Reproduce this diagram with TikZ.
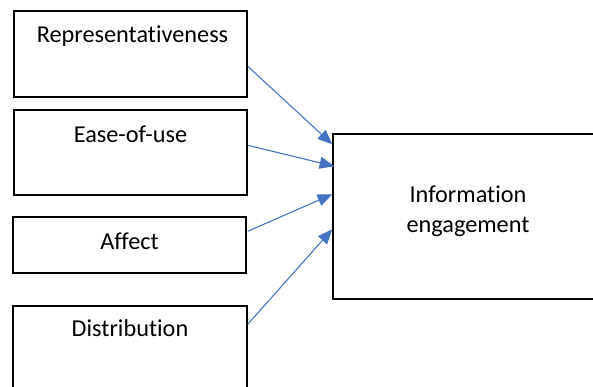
\documentclass[tikz,border=0pt]{standalone}
\usepackage{fontspec}
\setmainfont{Carlito}[RawFeature=-liga]
\usetikzlibrary{arrows.meta,calc}
\definecolor{arrowblue}{HTML}{4472C4}
\begin{document}
\begin{tikzpicture}[x=0.75pt,y=-0.75pt]
                \tikzset{
                  box/.style={draw,line width=1.1pt,inner sep=0pt},
                  lbl/.style={anchor=base,inner sep=0pt,font=\fontsize{18.2}{22.5}\selectfont},
                  link/.style={draw=arrowblue,line width=0.8pt,-{Triangle[length=11pt,width=9pt]}}
                }
                \useasboundingbox (0,0) rectangle (593,386);
                \clip (0,0) rectangle (593,386);

                \node[box,minimum width=174.75pt,minimum height=64.5pt] (rep) at (130.5,54) {};
                \node[box,minimum width=174.75pt,minimum height=63.75pt] (ease) at (130.5,152.5) {};
                \node[box,minimum width=174.75pt,minimum height=42pt] (aff) at (129.5,245) {};
                \node[box,minimum width=175.5pt,minimum height=73.5pt] (dist) at (130,355) {};
                \node[box,minimum width=202.5pt,minimum height=123.75pt] (info) at (468,216.5) {};

                \node[lbl] (repT) at ($(rep.north)+(2,32)$) {Representativeness};
                \node[lbl] (easeT) at ($(ease.north)+(0,33)$) {Ease-of-use};
                \node[lbl] (affT) at ($(aff.north)+(0,33)$) {Affect};
                \node[lbl] (distT) at ($(dist.north)+(0,31)$) {Distribution};
                \node[lbl,anchor=center,align=center] (infoT) at (468,211) {Information\\engagement};

                \draw[link] ($(rep.north east)+(0,56)$) -- ($(info.north west)+(0,11)$);
                \draw[link] ($(ease.north east)+(0,36)$) -- ($(info.north west)+(2,33)$);
                \draw[link] ($(aff.north east)+(1,15)$) -- ($(info.north west)+(0,61)$);
                \draw[link] ($(dist.north east)+(0,19)$) -- ($(info.north west)+(0,96)$);
            \end{tikzpicture}
\end{document}
